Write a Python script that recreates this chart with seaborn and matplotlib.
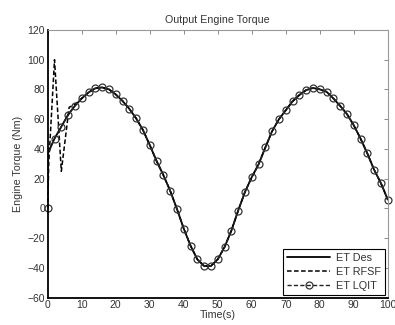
import matplotlib
matplotlib.use("Agg")
import matplotlib.pyplot as plt
import seaborn as sns
import pandas as pd

# time axis (s) and desired engine torque (Nm)
time = list(range(0, 101, 2))
et_des = [37, 47, 55, 63, 69, 74, 78, 80.8, 81.4, 80.1,
          76.7, 72.3, 67, 60.6, 52.8, 42.7, 32, 22.5, 12, -0.3,
          -13.5, -25, -34.2, -38.7, -38.7, -34.2, -26, -15, -1.5, 11,
          21, 29.6, 41, 52, 60, 66, 72, 76.3, 79.6, 81,
          80.1, 78.5, 74, 69, 63.5, 56, 47, 37, 26, 17, 6]

# start-up transients of the two controllers
rfsf_start_t = [0, 0.3, 2, 4, 6.3, 8]
rfsf_start = [0, 30, 100, 25, 68, 70]
lqit_start_t = [0, 0.2]
lqit_start = [0, 37]

df_des = pd.DataFrame({"t": time, "y": et_des})
df_rfsf = pd.DataFrame({"t": rfsf_start_t + time[5:], "y": rfsf_start + et_des[5:]})
df_lqit = pd.DataFrame({"t": lqit_start_t + time[1:], "y": lqit_start + et_des[1:]})

sns.set_style("white")
plt.rcParams["font.family"] = ["Liberation Sans", "DejaVu Sans"]

fig = plt.figure(figsize=(3.95, 3.25), dpi=100)
ax = fig.add_axes([0.1208, 0.084, 0.8608, 0.8237])

sns.lineplot(data=df_des, x="t", y="y", ax=ax, color="black", lw=1.3,
             label="ET Des", sort=False)
sns.lineplot(data=df_rfsf, x="t", y="y", ax=ax, color="black", lw=1.1,
             linestyle=(0, (3, 1.6)), label="ET RFSF", sort=False)
sns.lineplot(data=df_lqit, x="t", y="y", ax=ax, color="#222222", lw=1.0,
             linestyle=(0, (3, 1.6)), marker="o", markersize=5,
             markerfacecolor="none", markeredgecolor="#333333",
             markeredgewidth=0.9, markevery=[0] + list(range(2, len(df_lqit))),
             label="ET LQIT", sort=False, clip_on=False)

ax.set_xlim(0, 100)
ax.set_ylim(-60, 120)
ax.set_xticks(range(0, 101, 10))
ax.set_yticks(range(-60, 121, 20))
ax.tick_params(direction="in", length=3, width=0.6, labelsize=7.5, pad=2,
               top=True, right=True, colors="#777777", labelcolor="#333333")

for side in ["left", "bottom"]:
    ax.spines[side].set_color("black")
    ax.spines[side].set_linewidth(1.3)
for side in ["top", "right"]:
    ax.spines[side].set_color("#999999")
    ax.spines[side].set_linewidth(0.8)

ax.set_title("Output Engine Torque", fontsize=7.7, color="#333333", pad=5)
ax.set_xlabel("Time(s)", fontsize=7.7, color="#333333", labelpad=0)
ax.set_ylabel("Engine Torque (Nm)", fontsize=7.7, color="#333333", labelpad=3)

leg = ax.legend(loc="lower right", fontsize=7.8, frameon=True, fancybox=False,
                edgecolor="black", framealpha=1, borderaxespad=0.25,
                handlelength=4.0, handletextpad=0.5, borderpad=0.4,
                labelspacing=0.35)
leg.get_frame().set_linewidth(0.8)
for txt in leg.get_texts():
    txt.set_color("#333333")

fig.savefig("out.png", dpi=100)
plt.close(fig)
